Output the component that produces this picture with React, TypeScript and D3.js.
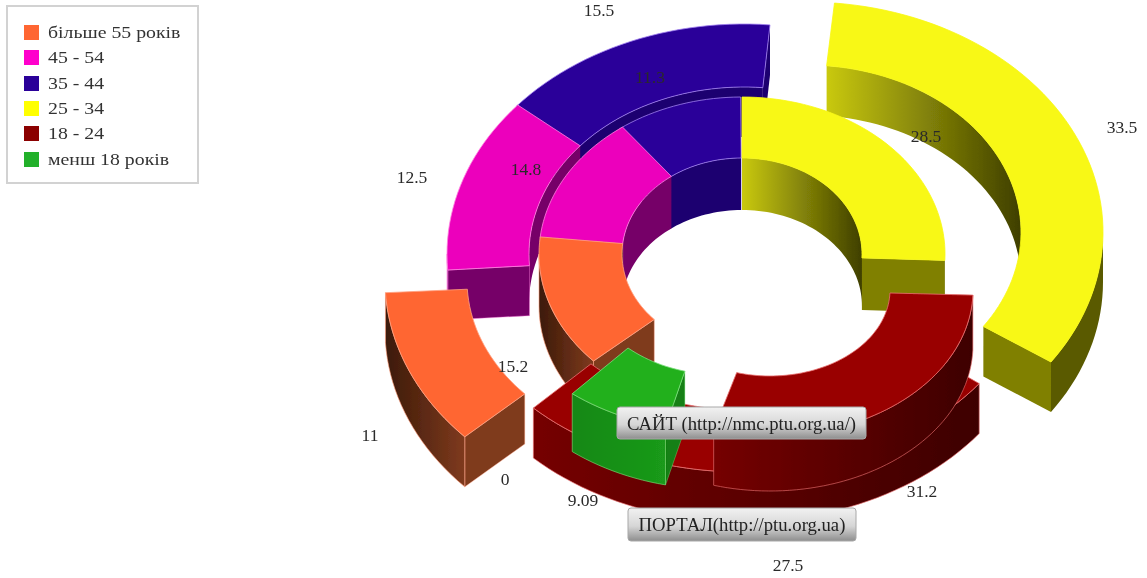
import React from "react";
import * as d3 from "d3";

const categories = ["25 - 34", "18 - 24", "менш 18 років", "більше 55 років", "45 - 54", "35 - 44"];
const legendOrder = [3, 4, 5, 0, 1, 2];
const outerValues = [33.5, 27.5, 9.09, 11, 12.5, 15.5];
const innerValues = [28.5, 31.2, 0, 15.2, 14.8, 11.3];
const innerLabelText = ["28.5", "31.2", "0", "15.2", "14.8", "11.3"];
const outerLabelText = ["33.5", "27.5", "9.09", "11", "12.5", "15.5"];

const topColors = ["#F8F814", "#990000", "#22B01E", "#FF6633", "#EC00BC", "#2A0099"];
const legendColors = ["#FFFF00", "#8B0000", "#22B02A", "#FF6633", "#FF00CC", "#2A0099"];
const edgeColors = ["#F8F814", "#E87070", "#7BE07B", "#FFA080", "#FF80E0", "#A080F0"];
const capColors = ["#808000", "#5a0000", "#128012", "#7F3A1E", "#760068", "#1D0070"];
const wallGrad = [
  ["#C9C90F", "#3F3F00"],
  ["#750000", "#3E0000"],
  ["#128812", "#1A9A1A"],
  ["#3C1A08", "#7F3A1E"],
  ["#760068", "#760068"],
  ["#1D0070", "#1D0070"],
];

// Layout per ring: explode centre, start angle (deg clockwise from top), angular stretch, radii
const outerCx = [806, 742, 715, 682, 744, 744];
const outerCy = [232, 250, 244, 280, 254, 254];
const outerStart = [5.5, 127, 192, 227, 266, 310];
const outerStretch = [1, 1, 0.77, 1.02, 1, 1];
const outerRxO = [297, 297, 238, 297, 297, 297];
const outerRyO = [230, 222, 187, 230, 230, 230];
const outerRxI = [215, 215, 145, 215, 215, 215];
const outerRyI = [167, 160, 130, 167, 167, 167];
const outerDepth = [50, 50, 58, 50, 50, 50];
const innerCx = [742, 770, 742, 742, 742, 742];
const innerCy = [254, 290, 254, 254, 254, 254];
const innerStart = [0, 92, 0, 227, 276, 323];
const innerStretch = [1, 1.03, 1, 1, 1, 1];
const innerRyO = [157, 146, 157, 157, 157, 157];
const innerRyI = [96, 86, 96, 96, 96, 96];
const innerDepth = [52, 55, 52, 52, 52, 52];

const outerSweep = d3.scaleLinear().domain([0, 100]).range([0, 355]);
const innerSweep = d3.scaleLinear().domain([0, 100]).range([0, 324]);

type Geo = { cx: number; cy: number; rxO: number; ryO: number; rxI: number; ryI: number; d: number; a0: number; a1: number; i: number; key: string };

const rad = (a: number) => (a * Math.PI) / 180;
const line = d3.line<[number, number]>().x((p) => p[0]).y((p) => p[1]);

function arcPts(g: Geo, rx: number, ry: number, from: number, to: number, dz = 0): [number, number][] {
  const n = Math.max(2, Math.ceil(Math.abs(to - from) / 2));
  return d3.range(n + 1).map((k) => {
    const a = rad(from + ((to - from) * k) / n);
    return [g.cx + rx * Math.sin(a), g.cy - ry * Math.cos(a) + dz] as [number, number];
  });
}

function visibleRanges(a0: number, a1: number, front: boolean): [number, number][] {
  const out: [number, number][] = [];
  const bands = front ? [[90, 270], [450, 630]] : [[-90, 90], [270, 450]];
  bands.forEach(([s, e]) => {
    const lo = Math.max(a0, s);
    const hi = Math.min(a1, e);
    if (hi > lo) out.push([lo, hi]);
  });
  return out;
}

function wallPath(g: Geo, rx: number, ry: number, from: number, to: number) {
  const top = arcPts(g, rx, ry, from, to);
  const bot = arcPts(g, rx, ry, to, from, g.d);
  return line([...top, ...bot])! + "Z";
}

function capPath(g: Geo, a: number) {
  const s = Math.sin(rad(a));
  const c = Math.cos(rad(a));
  const o: [number, number] = [g.cx + g.rxO * s, g.cy - g.ryO * c];
  const n: [number, number] = [g.cx + g.rxI * s, g.cy - g.ryI * c];
  return line([n, o, [o[0], o[1] + g.d], [n[0], n[1] + g.d]])! + "Z";
}

function topPath(g: Geo) {
  return line([...arcPts(g, g.rxO, g.ryO, g.a0, g.a1), ...arcPts(g, g.rxI, g.ryI, g.a1, g.a0)])! + "Z";
}

function Slice({ g }: { g: Geo }) {
  const gid = `wall-${g.i}`;
  const inner = visibleRanges(g.a0, g.a1, false);
  const outer = visibleRanges(g.a0, g.a1, true);
  const edge = edgeColors[g.i];
  const wallStroke = g.i === 0 ? "none" : edge;
  return (
    <g>
      {inner.map(([a, b], k) => (
        <path key={k} d={wallPath(g, g.rxI, g.ryI, a, b)} fill={g.i === 0 ? `url(#${gid})` : wallGrad[g.i][0]} stroke="none" />
      ))}
      {-Math.sin(rad(g.a0)) > 0 && <path d={capPath(g, g.a0)} fill={capColors[g.i]} stroke={edge} strokeWidth={0.6} strokeOpacity={0.7} />}
      {Math.sin(rad(g.a1)) > 0 && <path d={capPath(g, g.a1)} fill={capColors[g.i]} stroke="none" />}
      {outer.map(([a, b], k) => (
        <path key={k} d={wallPath(g, g.rxO, g.ryO, a, b)} fill={g.i === 0 ? "#5A5A00" : `url(#${gid})`} stroke={wallStroke} strokeWidth={0.9} strokeOpacity={0.7} />
      ))}
      <path d={topPath(g)} fill={topColors[g.i]} stroke={edge} strokeWidth={1} strokeOpacity={0.8} />
    </g>
  );
}

const makeOuter = (i: number): Geo => ({
  key: `o${i}`,
  i,
  cx: outerCx[i],
  cy: outerCy[i],
  rxO: outerRxO[i],
  ryO: outerRyO[i],
  rxI: outerRxI[i],
  ryI: outerRyI[i],
  d: outerDepth[i],
  a0: outerStart[i],
  a1: outerStart[i] + outerSweep(outerValues[i]) * outerStretch[i],
});
const makeInner = (i: number): Geo => ({
  key: `i${i}`,
  i,
  cx: innerCx[i],
  cy: innerCy[i],
  rxO: 203,
  ryO: innerRyO[i],
  rxI: 120,
  ryI: innerRyI[i],
  d: innerDepth[i],
  a0: innerStart[i],
  a1: innerStart[i] + innerSweep(innerValues[i]) * innerStretch[i],
});

// Back-to-front painting order
const paintOrder: Geo[] = [
  makeOuter(5),
  makeOuter(4),
  makeInner(5),
  makeInner(4),
  makeOuter(0),
  makeInner(0),
  makeInner(3),
  makeOuter(3),
  makeOuter(1),
  makeInner(1),
  makeOuter(2),
];

const labelX = [926, 922, 505, 513, 526, 650];
const labelY = [142, 497, 485, 372, 175, 83];
const outerLabelX = [1122, 788, 583, 370, 412, 599];
const outerLabelY = [133, 571, 506, 441, 183, 16];

const tipTexts = ["САЙТ (http://nmc.ptu.org.ua/)", "ПОРТАЛ(http://ptu.org.ua)"];
const tipX = [617, 628];
const tipY = [407, 508];
const tipW = [249, 228];
const tipH = [32, 33];

const legendTop = [25, 50, 76, 101, 126, 152];

export default function App() {
  const serif = "'Liberation Serif', serif";
  return (
    <svg width={1147} height={578} style={{ position: "absolute", left: 0, top: 0, background: "#fff" }} fontFamily={serif}>
      <defs>
        {wallGrad.map((c, i) => (
          <linearGradient key={i} id={`wall-${i}`} x1="0" x2="1" y1="0" y2="0">
            <stop offset="0" stopColor={c[0]} />
            <stop offset="1" stopColor={c[1]} />
          </linearGradient>
        ))}
        <linearGradient id="tip" x1="0" x2="0" y1="0" y2="1">
          <stop offset="0" stopColor="#F2F2F2" />
          <stop offset="0.55" stopColor="#D6D6D6" />
          <stop offset="1" stopColor="#8E8E8E" />
        </linearGradient>
        <filter id="soft" x="0" y="0" width="1" height="1" filterUnits="objectBoundingBox">
          <feGaussianBlur stdDeviation="0.45" />
        </filter>
      </defs>

      <g filter="url(#soft)">
        <rect x={0} y={0} width={1147} height={578} fill="#fff" />
        <rect x={7} y={6} width={191} height={177} fill="#fff" stroke="#D2D2D2" strokeWidth={2} />
        {legendOrder.map((c, k) => (
          <g key={c}>
            <rect x={24} y={legendTop[k]} width={15} height={15} fill={legendColors[c]} />
            <text transform={`translate(48,${legendTop[k] + 13}) scale(1.2,1)`} fontSize={16.5} fill="#333">
              {categories[c]}
            </text>
          </g>
        ))}

        {paintOrder.map((g) => (
          <Slice key={g.key} g={g} />
        ))}

        {innerLabelText.map((t, i) => (
          <text key={t + i} x={labelX[i]} y={labelY[i]} fontSize={17.5} textAnchor="middle" fill="#2a2a2a">
            {t}
          </text>
        ))}
        {outerLabelText.map((t, i) => (
          <text key={t + i} x={outerLabelX[i]} y={outerLabelY[i]} fontSize={17.5} textAnchor="middle" fill="#2a2a2a">
            {t}
          </text>
        ))}

        {tipTexts.map((t, i) => (
          <g key={t}>
            <rect x={tipX[i]} y={tipY[i]} width={tipW[i]} height={tipH[i]} rx={3} fill="url(#tip)" stroke="#A8A8A8" />
            <text x={tipX[i] + tipW[i] / 2} y={tipY[i] + 23} fontSize={18.7} textAnchor="middle" fill="#222">
              {t}
            </text>
          </g>
        ))}
      </g>
    </svg>
  );
}
